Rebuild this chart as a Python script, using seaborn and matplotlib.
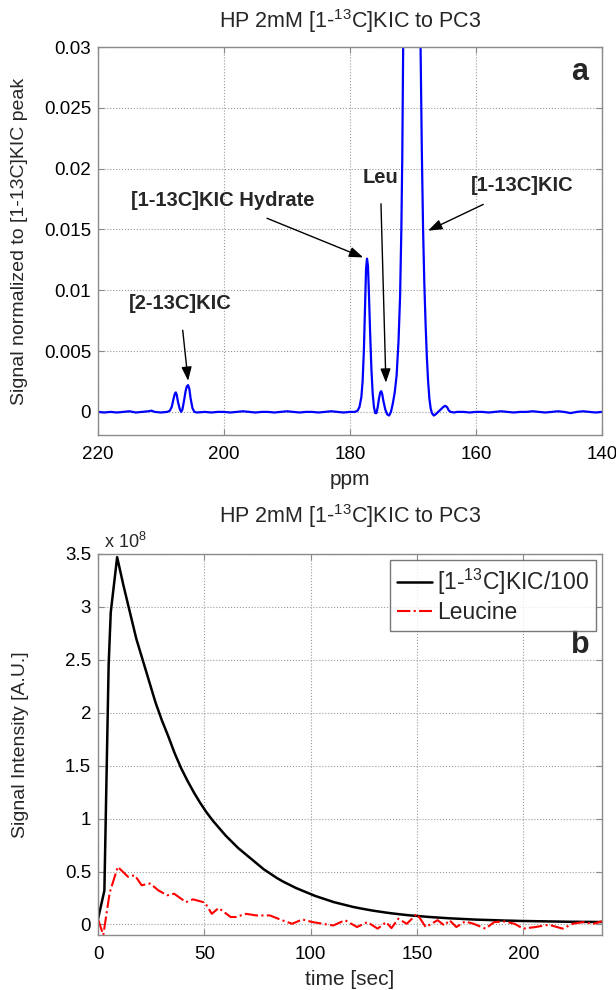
import numpy as np
import pandas as pd
import matplotlib
matplotlib.use("Agg")
import matplotlib.pyplot as plt
import seaborn as sns
from matplotlib.ticker import FuncFormatter

# ---------------- data: panel a (spectrum) ----------------
ppm = [220, 219, 218, 217, 216, 215, 214, 213, 212, 211.5, 211, 210, 209,
       208.6, 208.3, 208.0, 207.8, 207.65, 207.5, 207.3, 207.0, 206.8, 206.6,
       206.35, 206.1, 205.9, 205.7, 205.5, 205.3, 205.0, 204.7, 204.3,
       203, 202, 201, 200, 199, 198, 197, 196, 195, 194, 193, 192, 191, 190,
       189, 188, 187, 186, 185, 184, 183, 182, 181, 180, 179.2, 178.8, 178.5,
       178.2, 178.0, 177.8, 177.6, 177.45, 177.3, 177.15, 177.0, 176.8, 176.6,
       176.4, 176.2, 176.0, 175.8, 175.6, 175.4, 175.2, 175.05, 174.9, 174.7,
       174.4, 174.1, 173.8, 173.5, 173.2, 172.9, 172.6, 172.3, 172.05, 171.85,
       171.7, 171.55, 171.4, 171.1, 170.8, 170.2, 169.8, 169.4, 169.1, 168.95,
       168.8, 168.6, 168.4, 168.2, 168.0, 167.8, 167.6, 167.4, 167.2, 167.0,
       166.7, 166.4, 166.0, 165.6, 165.2, 164.9, 164.6, 164.3, 164.0, 163.5,
       163, 162, 161, 160, 159, 158, 157, 156, 155, 154, 153, 152, 151, 150,
       149, 148, 147, 146, 145, 144, 143, 142, 141, 140]
signal = [0.0000, -0.00005, 0.0000, -0.00005, 0.0000, 0.00005, -0.00005, 0.0000,
          0.00005, 0.0001, 0.0000, -0.00005, 0.0000,
          0.0001, 0.0004, 0.0011, 0.0015, 0.0016, 0.0014, 0.0008, 0.0002,
          0.0000, 0.0002, 0.0009, 0.0017, 0.0021, 0.0022, 0.0019, 0.0011,
          0.0003, 0.0000, -0.00005,
          0.0000, -0.00005, 0.0000, 0.0000, -0.00005, 0.0000, 0.00005, 0.0000,
          -0.00005, 0.0000, 0.0000, -0.00005, 0.0000, 0.00005, 0.0000, -0.00005,
          0.0000, 0.0000, -0.00005, 0.0000, 0.00005, 0.0000, -0.00005, 0.0000,
          0.0000, 0.0001, 0.0004, 0.0012, 0.0025, 0.0050, 0.0088, 0.0118,
          0.0126, 0.0120, 0.0098, 0.0064, 0.0035, 0.0015, 0.0004, -0.0001,
          -0.0001, 0.0004, 0.0011, 0.0016, 0.0017, 0.0015, 0.0009, 0.0002,
          -0.0002, -0.0003, 0.0000, 0.0007, 0.0016, 0.0030, 0.0058, 0.0095,
          0.0150, 0.0210, 0.0300, 0.0420, 0.0800, 0.2500, 1.0000, 0.5000,
          0.1500, 0.0600, 0.0400, 0.0300, 0.0215, 0.0150, 0.0105, 0.0072,
          0.0045, 0.0025, 0.0011, 0.0003, -0.0001, -0.0003, -0.0002, 0.0000,
          0.0002, 0.0004, 0.0005, 0.0004, 0.0001, 0.0000, -0.00005,
          0.0000, 0.0000, -0.00005, 0.0000, 0.0000, -0.00005, 0.0000, 0.00005,
          0.0000, -0.00005, 0.0000, 0.0000, 0.00005, 0.0000, -0.00005, 0.0000,
          0.00005, 0.0000, -0.0001, 0.0000, 0.00005, 0.0000, -0.00005, 0.0000]

peak_labels = ["[2-13C]KIC", "[1-13C]KIC Hydrate", "Leu", "[1-13C]KIC"]
label_xy = [(207.0, 0.0089), (200.2, 0.0174), (175.2, 0.0193), (152.6, 0.0186)]
arrow_tip = [(205.7, 0.00255), (177.9, 0.0127), (174.3, 0.0024), (167.6, 0.0149)]

# ---------------- data: panel b (time courses, x 1e8) ----------------
t_kic = [0, 3, 5, 6, 9, 12, 15, 18, 21, 24, 27, 30, 33, 36, 39, 42, 45, 48,
         51, 54, 57, 60, 63, 66, 69, 72, 75, 78, 81, 84, 87, 90, 93, 96, 99,
         102, 105, 108, 111, 114, 117, 120, 123, 126, 129, 132, 135, 138, 141,
         144, 147, 150, 153, 156, 159, 162, 165, 168, 171, 174, 177, 180, 183,
         186, 189, 192, 195, 198, 201, 204, 207, 210, 213, 216, 219, 222, 225,
         228, 231, 234, 237]
kic = [0.05, 0.32, 2.45, 2.95, 3.47, 3.20, 2.95, 2.70, 2.50, 2.30, 2.10,
       1.93, 1.78, 1.62, 1.48, 1.36, 1.25, 1.15, 1.06, 0.98, 0.91, 0.84,
       0.78, 0.72, 0.67, 0.62, 0.57, 0.52, 0.48, 0.44, 0.405, 0.375, 0.345,
       0.32, 0.295, 0.27, 0.25, 0.23, 0.21, 0.195, 0.18, 0.165, 0.153, 0.142,
       0.131, 0.122, 0.113, 0.105, 0.098, 0.091, 0.085, 0.080, 0.075, 0.070,
       0.066, 0.062, 0.058, 0.055, 0.052, 0.049, 0.046, 0.044, 0.042, 0.040,
       0.038, 0.036, 0.035, 0.033, 0.032, 0.031, 0.030, 0.029, 0.028, 0.027,
       0.026, 0.025, 0.025, 0.024, 0.024, 0.023, 0.023]

t_leu = [0, 2.5, 5.5, 9.3, 14.1, 17.3, 20.5, 24.5, 28.5, 32.6, 35.8, 41.4,
         44.7, 50.3, 53.5, 56.7, 62.4, 64.8, 69.6, 74.4, 80.8, 86.5, 91.3,
         96.1, 100.9, 110.6, 116.2, 121.8, 126.7, 131.5, 135.5, 138.0, 141.2,
         145.2, 150.0, 154.1, 159.7, 162.9, 165.3, 168.5, 172.6, 176.6, 182.2,
         186.3, 191.1, 195.9, 199.9, 205.6, 212.0, 218.5, 223.3, 228.1, 233.0,
         237.0]
leu = [0.05, -0.10, 0.30, 0.544, 0.45, 0.465, 0.37, 0.386, 0.32, 0.275, 0.29,
       0.21, 0.237, 0.206, 0.10, 0.155, 0.07, 0.07, 0.10, 0.085, 0.085, 0.04,
       0.006, 0.047, 0.022, -0.01, 0.04, -0.025, 0.022, -0.04, 0.022, -0.035,
       0.054, 0.006, 0.10, -0.025, 0.04, -0.01, 0.04, -0.025, 0.028, 0.006,
       -0.04, 0.022, 0.028, 0.006, -0.04, -0.025, -0.003, -0.04, 0.006, 0.022,
       0.006, 0.03]

title_text = "HP 2mM [1-$^{13}$C]KIC to PC3"

# ---------------- styling ----------------
sns.set_theme(style="ticks")
plt.rcParams['font.family'] = ['Liberation Sans', 'DejaVu Sans']
plt.rcParams['mathtext.fontset'] = 'custom'
plt.rcParams['mathtext.rm'] = 'Liberation Sans'

fig = plt.figure(figsize=(6.16, 9.9), dpi=100)
axA = fig.add_axes([98/616, 1-435/990, 504/616, 388/990])
axB = fig.add_axes([98/616, 1-935/990, 504/616, 381/990])

def style_axes(ax):
    ax.grid(True, linestyle=':', color='#9a9a9a', linewidth=0.8)
    for s in ax.spines.values():
        s.set_color('#8a8a8a')
        s.set_linewidth(1.0)
    ax.tick_params(direction='in', length=4, width=0.8, color='#8a8a8a',
                   top=True, right=True, labelsize=13.5, labelcolor='black')
    ax.tick_params(axis='x', pad=8)
    ax.tick_params(axis='y', pad=5)

fmt = FuncFormatter(lambda v, p: f"{v:g}")

# panel a
dfA = pd.DataFrame({"ppm": ppm, "signal": signal})
sns.lineplot(data=dfA, x="ppm", y="signal", ax=axA, color='#0000ff',
             linewidth=1.6, estimator=None, sort=False)
axA.set_xlim(220, 140)
axA.set_ylim(-0.0019, 0.03)
axA.set_xticks([220, 200, 180, 160, 140])
axA.set_yticks([0, 0.005, 0.01, 0.015, 0.02, 0.025, 0.03])
axA.yaxis.set_major_formatter(fmt)
style_axes(axA)
axA.set_xlabel("ppm", fontsize=15, labelpad=5)
axA.set_ylabel("Signal normalized to [1-13C]KIC peak", fontsize=14)
axA.yaxis.set_label_coords(-0.139, 0.5)
axA.set_title(title_text, fontsize=15.5, pad=14)
axA.text(0.956, 0.935, "a", transform=axA.transAxes, fontsize=22,
         fontweight='bold', ha='center', va='center')
for lab, xy, tip in zip(peak_labels, label_xy, arrow_tip):
    axA.annotate(lab, xy=tip, xytext=xy, textcoords='data',
                 fontsize=14.5, fontweight='bold', ha='center', va='center',
                 arrowprops=dict(arrowstyle='-|>,head_length=0.6,head_width=0.22',
                                 color='black', lw=1.0,
                                 mutation_scale=14, shrinkA=10, shrinkB=0))

# panel b
dfK = pd.DataFrame({"time": t_kic, "val": kic})
dfL = pd.DataFrame({"time": t_leu, "val": leu})
sns.lineplot(data=dfK, x="time", y="val", ax=axB, color='black', linewidth=1.8,
             estimator=None, label="[1-$^{13}$C]KIC/100")
sns.lineplot(data=dfL, x="time", y="val", ax=axB, color='#ff0000', linewidth=1.5,
             linestyle='-.', estimator=None, label="Leucine")
axB.set_xlim(0, 237)
axB.set_ylim(-0.1, 3.5)
axB.set_xticks([0, 50, 100, 150, 200])
axB.set_yticks([0, 0.5, 1, 1.5, 2, 2.5, 3, 3.5])
axB.yaxis.set_major_formatter(fmt)
style_axes(axB)
axB.set_xlabel("time [sec]", fontsize=15, labelpad=5)
axB.set_ylabel("Signal Intensity [A.U.]", fontsize=14)
axB.yaxis.set_label_coords(-0.137, 0.5)
axB.set_title(title_text, fontsize=15.5, pad=22)
axB.text(0.012, 1.005, "x 10$^{8}$", transform=axB.transAxes, fontsize=13,
         ha='left', va='bottom')
axB.text(0.956, 0.76, "b", transform=axB.transAxes, fontsize=22,
         fontweight='bold', ha='center', va='center')
leg = axB.legend(loc='upper right', fontsize=16.5, frameon=True, fancybox=False,
                 handlelength=1.5, handletextpad=0.25, borderpad=0.3,
                 labelspacing=0.2, borderaxespad=0.25)
leg.get_frame().set_edgecolor('#555555')
leg.get_frame().set_linewidth(1.0)

fig.savefig("out.png", dpi=100)
